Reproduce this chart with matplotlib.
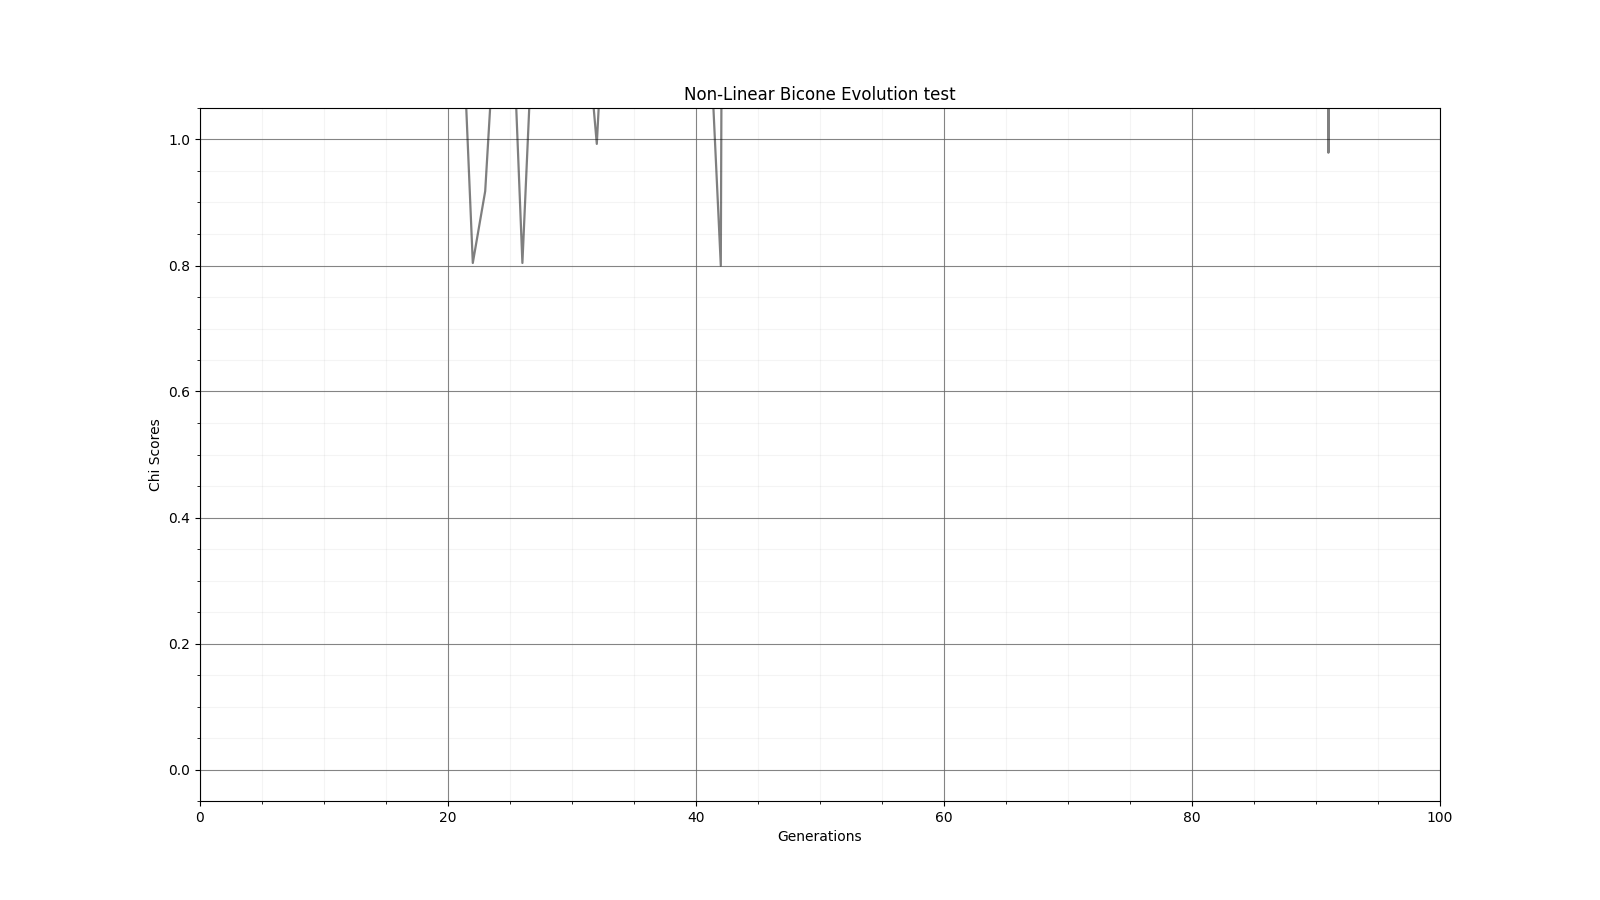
import matplotlib
matplotlib.use('Agg')
import matplotlib.pyplot as plt

# chi score per generation (most of it sits above the visible range)
generations = list(range(0, 101))
chi_scores = [
    14.2, 11.8, 9.6, 8.3, 7.9, 6.4, 5.8, 5.1, 4.7, 4.2,   # 0-9
    3.9, 3.5, 3.1, 2.9, 2.6, 2.4, 2.2, 1.9, 1.8, 1.6,     # 10-19
    1.45, 1.27, 0.804, 0.918, 1.25, 1.30, 0.804, 1.25, 1.6, 1.9,  # 20-29
    1.5, 1.22, 0.993, 1.37, 2.1, 2.6, 3.0, 2.4, 1.9, 1.6,  # 30-39
    1.4, 1.22, 0.80, 6.0, 5.5, 4.1, 3.2, 2.7, 3.9, 4.4,    # 40-49
    5.2, 4.6, 3.8, 4.9, 5.5, 6.1, 4.8, 4.0, 5.3, 6.2,      # 50-59
    7.1, 5.9, 4.7, 5.6, 6.8, 7.4, 6.0, 5.2, 6.5, 7.7,      # 60-69
    8.3, 7.0, 6.1, 7.2, 8.8, 9.5, 8.1, 7.3, 8.6, 9.9,      # 70-79
    10.6, 9.2, 8.4, 9.7, 11.0, 11.8, 10.3, 9.4, 12.1, 13.5, # 80-89
    15.0, 0.979, 15.0, 12.8, 11.4, 13.2, 14.6, 12.9, 11.7, 13.8,  # 90-99
    14.9,                                                  # 100
]

plt.figure(figsize=(16, 9), dpi=100)
plt.plot(generations, chi_scores, color='black', alpha=0.5, linewidth=1.6)
plt.title('Non-Linear Bicone Evolution test', fontsize=12)
plt.xlabel('Generations')
plt.ylabel('Chi Scores')
plt.xlim(0, 100)
plt.ylim(-0.05, 1.05)
plt.grid(which='major', color='#666666', linestyle='-', alpha=0.8)
plt.minorticks_on()
plt.grid(which='minor', color='#999999', linestyle='-', alpha=0.1)
plt.savefig('out.png', dpi=100)
